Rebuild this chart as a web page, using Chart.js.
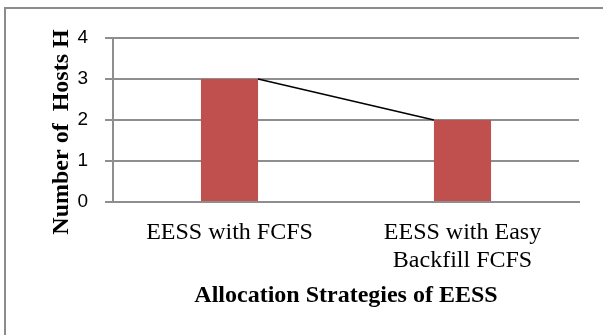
<!DOCTYPE html>
<html>
<head>
<meta charset="utf-8">
<script src="https://cdn.jsdelivr.net/npm/chart.js@4.4.0/dist/chart.umd.min.js"></script>
<style>
  html, body { margin: 0; padding: 0; background: #fff; }
  #wrap { position: relative; width: 603px; height: 335px; overflow: hidden; }
  #frame { position: absolute; left: 4px; top: 7px; width: 700px; height: 400px; border: 2px solid #8c8c8c; }
  #chart { position: absolute; left: 0; top: 0; }
</style>
</head>
<body>
<div id="wrap">
  <div id="frame"></div>
  <canvas id="chart" width="603" height="335"></canvas>
</div>
<script>
// data
const categories = [['EESS with FCFS'], ['EESS with Easy', 'Backfill FCFS']];
const hostCounts = [3, 2];
const yTitle = 'Number of  Hosts H';
const xTitle = 'Allocation Strategies of EESS';

const barColor = '#C0504D';
const gridColor = '#8e8e8e';

// line joining the tops of neighbouring bars (Excel series lines)
const seriesLines = {
    id: 'seriesLines',
    afterDatasetsDraw(chart) {
        const bars = chart.getDatasetMeta(0).data;
        const ctx = chart.ctx;
        ctx.save();
        ctx.strokeStyle = '#000';
        ctx.lineWidth = 1.5;
        for (let i = 0; i < bars.length - 1; i++) {
            const a = bars[i], b = bars[i + 1];
            ctx.beginPath();
            ctx.moveTo(a.x + a.width / 2, a.y);
            ctx.lineTo(b.x - b.width / 2, b.y);
            ctx.stroke();
        }
        ctx.restore();
    }
};

// axis titles, placed like the original
const axisTitles = {
    id: 'axisTitles',
    afterDraw(chart) {
        const ctx = chart.ctx;
        const area = chart.chartArea;
        ctx.save();
        ctx.fillStyle = '#000';
        ctx.font = 'bold 24px "Liberation Serif"';
        ctx.textAlign = 'center';
        ctx.textBaseline = 'middle';
        ctx.fillText(xTitle, (area.left + area.right) / 2, 296);
        ctx.translate(62, 132);
        ctx.rotate(-Math.PI / 2);
        ctx.fillText(yTitle, 0, 0);
        ctx.restore();
    }
};

new Chart(document.getElementById('chart'), {
    type: 'bar',
    data: {
        labels: categories,
        datasets: [{
            data: hostCounts,
            backgroundColor: barColor,
            borderWidth: 0,
            categoryPercentage: 1,
            barPercentage: 0.245
        }]
    },
    options: {
        responsive: false,
        animation: false,
        layout: { padding: { left: 0, right: 24, top: 38, bottom: 0 } },
        plugins: {
            legend: { display: false },
            tooltip: { enabled: false }
        },
        scales: {
            x: {
                grid: { display: false },
                border: { display: true, color: gridColor, width: 2 },
                ticks: {
                    color: '#000',
                    padding: 9,
                    maxRotation: 0,
                    font: { family: 'Liberation Serif', size: 24, lineHeight: 1.17 }
                },
                afterFit(scale) { scale.height = 133; }
            },
            y: {
                min: 0,
                max: 4,
                ticks: {
                    stepSize: 1,
                    color: '#000',
                    padding: 17,
                    font: { family: 'Liberation Sans', size: 19 }
                },
                grid: { color: gridColor, lineWidth: 2, tickLength: 8 },
                border: { display: true, color: gridColor, width: 2 },
                afterFit(scale) { scale.width = 113; }
            }
        }
    },
    plugins: [seriesLines, axisTitles]
});
</script>
</body>
</html>
